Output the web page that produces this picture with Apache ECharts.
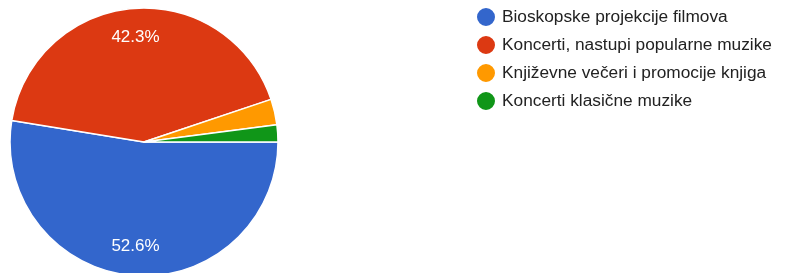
<!DOCTYPE html>
<html>
<head>
<meta charset="utf-8">
<script src="https://cdn.jsdelivr.net/npm/echarts@6/dist/echarts.min.js"></script>
<style>
  html, body { margin: 0; padding: 0; background: #fff; }
  #main { width: 785px; height: 273px; }
</style>
</head>
<body>
<div id="main"></div>
<script>
// podaci
var kategorije = [
    'Bioskopske projekcije filmova',
    'Koncerti, nastupi popularne muzike',
    'Književne večeri i promocije knjiga',
    'Koncerti klasične muzike'
];
var odgovori = [102, 82, 6, 4];
var boje = ['#3366cc', '#dc3912', '#ff9900', '#109618'];

var podaci = kategorije.map(function (k, i) {
    return { name: k, value: odgovori[i] };
});

var myChart = echarts.init(document.getElementById('main'));

var centar = [144, 142];
var poluprecnik = 134;

var option = {
    color: boje,
    animation: false,
    legend: {
        orient: 'vertical',
        left: 470,
        top: 1,
        icon: 'circle',
        itemWidth: 20,
        itemHeight: 20,
        itemGap: 6,
        data: kategorije,
        textStyle: {
            fontFamily: 'Arial, "Liberation Sans"',
            fontSize: 17.3,
            lineHeight: 17,
            color: '#222222',
            padding: [0, 0, 0, 1]
        }
    },
    series: [
        {
            type: 'pie',
            center: centar,
            radius: poluprecnik,
            startAngle: 0,
            clockwise: true,
            silent: true,
            data: podaci,
            itemStyle: { borderColor: '#ffffff', borderWidth: 1.5 },
            label: { show: false },
            labelLine: { show: false }
        },
        {
            // samo za natpise procenata (malo dalje od centra, kao u originalu)
            type: 'pie',
            center: centar,
            radius: poluprecnik * 1.52,
            startAngle: 0,
            clockwise: true,
            silent: true,
            data: podaci,
            itemStyle: { color: 'rgba(0,0,0,0)' },
            label: {
                show: true,
                position: 'inside',
                color: '#ffffff',
                fontFamily: 'Arial, "Liberation Sans"',
                fontSize: 17,
                formatter: function (p) {
                    return p.percent >= 5 ? p.percent.toFixed(1) + '%' : '';
                }
            },
            labelLine: { show: false },
            emphasis: { disabled: true }
        }
    ]
};

myChart.setOption(option);

window.addEventListener('resize', function () {
    myChart.resize();
});
</script>
</body>
</html>
